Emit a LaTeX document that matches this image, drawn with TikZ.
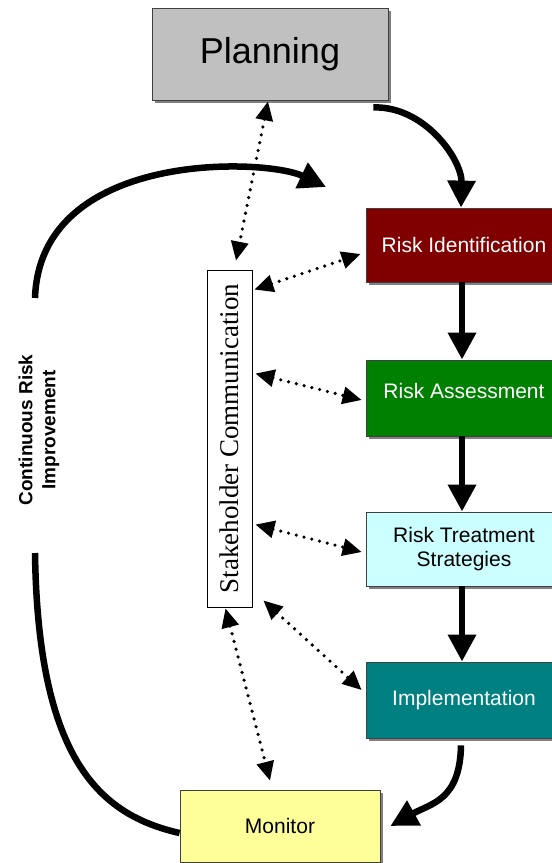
\documentclass[tikz,border=0pt]{standalone}
\usepackage{fontspec}
\usepackage{graphicx}
\setmainfont{Liberation Sans}
\newfontfamily\serifface{Liberation Serif}
\usetikzlibrary{arrows.meta,calc,shadows}

\definecolor{planfill}{HTML}{C0C0C0}
\definecolor{idred}{HTML}{800000}
\definecolor{assessgreen}{HTML}{008000}
\definecolor{treatcyan}{HTML}{CCFFFF}
\definecolor{impteal}{HTML}{008080}
\definecolor{monyellow}{HTML}{FFFF99}

\begin{document}
\begin{tikzpicture}[x=1pt,y=-1pt,
  box/.style={draw=black!75, line width=0.8pt, inner sep=0pt, align=center,
    drop shadow={shadow xshift=3pt, shadow yshift=-3pt, fill=black!50, opacity=1}},
  stagefont/.style={font=\fontsize{21}{24}\selectfont},
  flow/.style={line width=6.5pt, -{Triangle[length=27pt,width=27pt]}},
  talk/.style={line width=3.6pt, line cap=round, dash pattern=on 0pt off 8pt,
    {Triangle[length=19pt,width=17pt]}-{Triangle[length=19pt,width=17pt]}}]

\useasboundingbox (0,0) rectangle (552,863);
\fill[white] (0,0) rectangle (552,863);

% process boxes
\node[box, fill=planfill, minimum width=236pt, minimum height=92pt,
  font=\fontsize{36}{40}\selectfont] (P) at (270,54) {\raisebox{-4pt}{Planning}};
\node[box, fill=idred, text=white, stagefont, minimum width=196pt, minimum height=74pt]
  (RI) at (464,245) {Risk Identification};
\node[box, fill=assessgreen, text=white, stagefont, minimum width=196pt, minimum height=76pt]
  (RA) at (464,398) {\raisebox{14pt}{Risk Assessment}};
\node[box, fill=treatcyan, stagefont, minimum width=196pt, minimum height=74pt]
  (RT) at (464,549) {Risk Treatment\\Strategies};
\node[box, fill=impteal, text=white, stagefont, minimum width=196pt, minimum height=76pt]
  (IM) at (464,700) {Implementation};
\node[box, fill=monyellow, stagefont, minimum width=200pt, minimum height=72pt]
  (M) at (280,826) {Monitor};

% stakeholder column
\node[draw=black, line width=0.9pt, fill=white, inner sep=0pt,
  minimum width=45pt, minimum height=337pt] (S) at (229.5,438.5)
  {\rotatebox{90}{\serifface\fontsize{27}{30}\selectfont Stakeholder Communication}};

% loop label
\node[rotate=90, align=center, font=\bfseries\fontsize{19}{23}\selectfont]
  (CRI) at (39,430) {Continuous Risk\\Improvement};

% main flow
\draw[flow] ($(P.south east)+(-15,7)$) .. controls (425,106) and (462,160) .. ($(RI.north)+(-3,0)$);
\draw[flow] ($(RI.south)+(-2,0)$) -- ($(RA.north)+(-2,0)$);
\draw[flow] ($(RA.south)+(-2,0)$) -- ($(RT.north)+(-2,0)$);
\draw[flow] ($(RT.south)+(-2,0)$) -- ($(IM.north)+(-2,0)$);
\draw[flow] ($(IM.south)+(-3,7)$) .. controls (460,800) and (432,803) .. ($(M.east)+(10,0)$);

% continuous improvement loop
\coordinate (loopA) at (35,298);
\coordinate (loopB) at (326,187);
\coordinate (loopC) at (35,553);
\draw[flow] (loopA) .. controls (40,150) and (265,158) .. (loopB);
\draw[line width=6.5pt] (loopC) .. controls (38,760) and (100,815) .. ($(M.west)+(0,7)$);

% communication links
\draw[talk] ($(P.south)+(-2,1)$) -- ($(S.north)+(6.5,-9)$);
\draw[talk] ($(S.north east)+(2,20)$) -- ($(RI.west)+(-5,9)$);
\draw[talk] ($(S.north east)+(3,104)$) -- ($(RA.west)+(-4,2)$);
\draw[talk] ($(S.north east)+(3,255)$) -- ($(RT.west)+(-4,3)$);
\draw[talk] ($(S.south east)+(11,-7)$) -- ($(IM.west)+(-4,-10)$);
\draw[talk] ($(S.south)+(-4,1)$) -- ($(M.north)+(-10,-9)$);
\end{tikzpicture}
\end{document}
